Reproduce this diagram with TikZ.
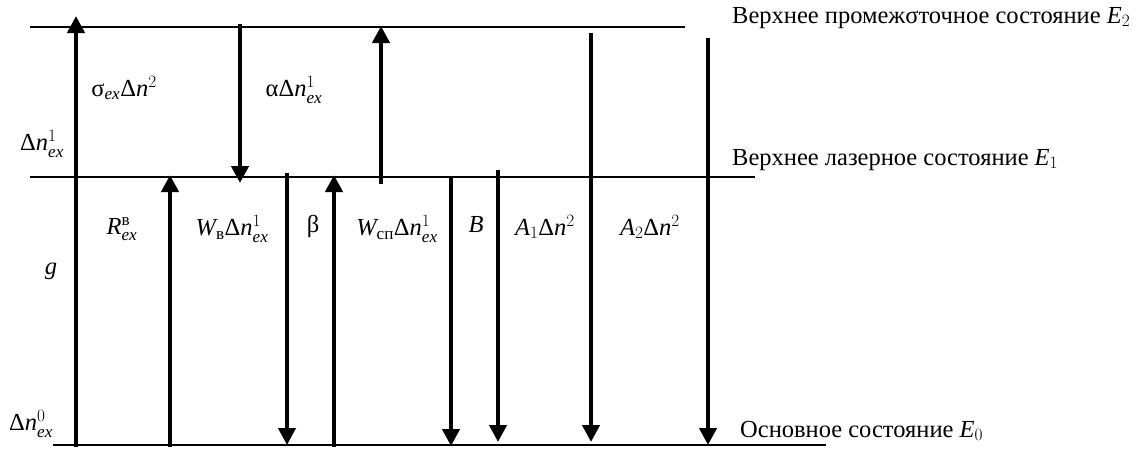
\documentclass[tikz,border=0pt]{standalone}
\usepackage{amsmath}
\usepackage{fontspec}
\setmainfont{Liberation Serif}
\usetikzlibrary{arrows.meta}

\newcommand{\dn}{\text{Δ}\mathit{n}}
\newcommand{\exs}{\mathit{ex}}

\begin{document}
\begin{tikzpicture}[x=1pt,y=-1pt,
  lvl/.style={line width=1.6pt},
  trans/.style={line width=4.2pt,-{Triangle[length=17pt,width=17pt]}},
  lbl/.style={font=\fontsize{24.5}{29}\selectfont,inner sep=0pt}]
  \useasboundingbox (0,0) rectangle (1147,448);
  % levels
  \coordinate (E2a) at (30,27);   \coordinate (E2b) at (685,27);
  \coordinate (E1a) at (30,177);  \coordinate (E1b) at (755,177);
  \coordinate (E0a) at (53,445);  \coordinate (E0b) at (826,445);
  \draw[lvl] (E2a) -- (E2b);
  \draw[lvl] (E1a) -- (E1b);
  \draw[lvl] (E0a) -- (E0b);
  % transitions
  \coordinate (s1) at (76,447);   \coordinate (t1) at (76,16);
  \coordinate (s2) at (240,24);   \coordinate (t2) at (240,183);
  \coordinate (s3) at (170,447);  \coordinate (t3) at (170,175);
  \coordinate (s4) at (287,173);  \coordinate (t4) at (287,445);
  \coordinate (s5) at (334,447);  \coordinate (t5) at (334,175);
  \coordinate (s6) at (381,184);  \coordinate (t6) at (381,26);
  \coordinate (s7) at (451,176);  \coordinate (t7) at (451,446);
  \coordinate (s8) at (498,170);  \coordinate (t8) at (498,442);
  \coordinate (s9) at (591,33);   \coordinate (t9) at (591,442);
  \coordinate (s10) at (708,38);  \coordinate (t10) at (708,445);
  \foreach \i in {1,...,10}
    \draw[trans] (s\i) -- (t\i);
  % rates
  \node[lbl] (sig) at (124,88) {$\text{σ}_{\exs}\dn^{2}$};
  \node[lbl] (alp) at (294,90) {$\text{α}\dn^{1}_{\exs}$};
  \node[lbl] (n1) at (42,144) {$\dn^{1}_{\exs}$};
  \node[lbl] (rex) at (122,229) {$\mathit{R}^{\text{в}}_{\exs}$};
  \node[lbl] (wv) at (232,229) {$\mathit{W}_{\text{в}}\dn^{1}_{\exs}$};
  \node[lbl] (bet) at (313,226) {β};
  \node[lbl] (wsp) at (397,229) {$\mathit{W}_{\text{сп}}\dn^{1}_{\exs}$};
  \node[lbl] (bb) at (476,225) {$\mathit{B}$};
  \node[lbl] (a1) at (545,227) {$\mathit{A}_{1}\dn^{2}$};
  \node[lbl] (a2) at (650,227) {$\mathit{A}_{2}\dn^{2}$};
  \node[lbl] (gg) at (51,271) {$\mathit{g}$};
  \node[lbl] (n0) at (31,424) {$\dn^{0}_{\exs}$};
  % states
  \node[lbl,anchor=base west] (st2) at (732,23) {Верхнее промежσточное состояние $\mathit{E}_{2}$};
  \node[lbl,anchor=base west] (st1) at (732,165) {Верхнее лазерное состояние $\mathit{E}_{1}$};
  \node[lbl,anchor=base west] (st0) at (740,437) {Основное состояние $\mathit{E}_{0}$};
\end{tikzpicture}
\end{document}
